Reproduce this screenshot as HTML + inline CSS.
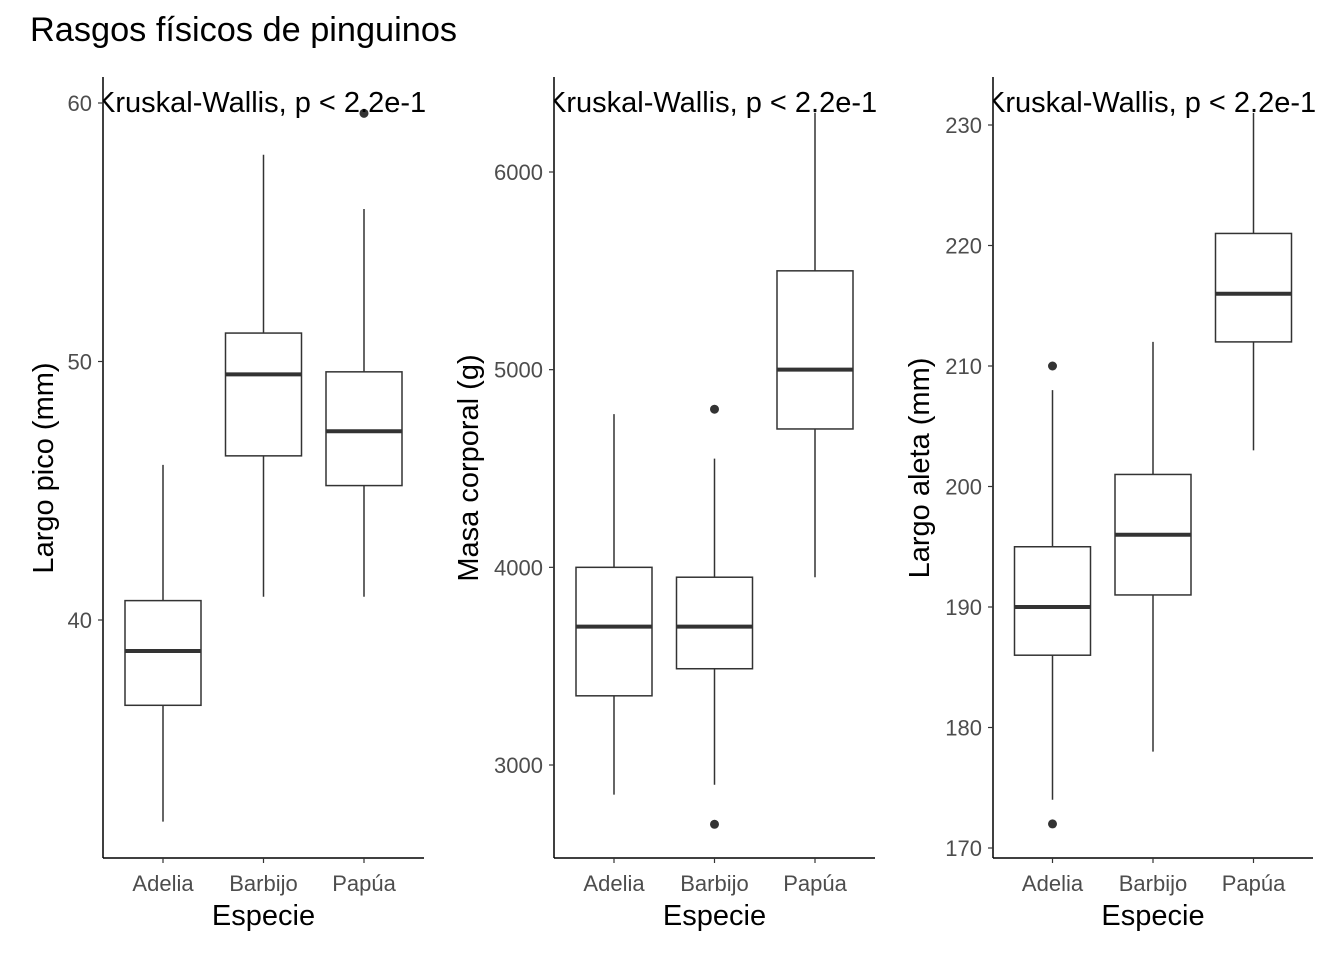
<!DOCTYPE html>
<html><head><meta charset="utf-8"><style>
body{margin:0;background:#fff;}
svg{display:block;font-family:"Liberation Sans",Arial,sans-serif;}
</style></head><body>
<svg id="chart" width="1344" height="960" viewBox="0 0 1344 960">
<text x="30" y="41" font-size="34.3" fill="#000">Rasgos físicos de pinguinos</text>
<g id="panels"></g>
</svg>
<script>
const categories = ["Adelia","Barbijo","Papúa"];
// stats: [low whisker, q1, median, q3, high whisker]
const billStats = [[32.2,36.7,38.8,40.75,46.0],[40.9,46.35,49.5,51.1,58.0],[40.9,45.2,47.3,49.6,55.9]];
const billOutliers = [[],[],[59.6]];
const billTicks = [40,50,60];
const massStats = [[2850,3350,3700,4000,4775],[2900,3487,3700,3950,4550],[3950,4700,5000,5500,6300]];
const massOutliers = [[],[4800,2700],[]];
const massTicks = [3000,4000,5000,6000];
const flipStats = [[174,186,190,195,208],[178,191,196,201,212],[203,212,216,221,231]];
const flipOutliers = [[210,172],[],[]];
const flipTicks = [170,180,190,200,210,220,230];
const annotation = "Kruskal-Wallis, p < 2.2e-16";

const NS="http://www.w3.org/2000/svg";
const root=document.getElementById('panels');
function mk(tag,attrs,parent){const e=document.createElementNS(NS,tag);for(const k in attrs)e.setAttribute(k,attrs[k]);(parent||root).appendChild(e);return e;}

const panels=[
 {name:"bill-length",ax:103,right:424,title:"Largo pico (mm)",tx:43,stats:billStats,out:billOutliers,ticks:billTicks,t0:40,p0:620,t1:60,p1:103},
 {name:"body-mass",ax:554,right:875,title:"Masa corporal (g)",tx:468,stats:massStats,out:massOutliers,ticks:massTicks,t0:3000,p0:765,t1:6000,p1:172},
 {name:"flipper-length",ax:993,right:1313,title:"Largo aleta (mm)",tx:919,stats:flipStats,out:flipOutliers,ticks:flipTicks,t0:170,p0:848,t1:230,p1:125}
];
const plotTop=77,plotBottom=858;
panels.forEach((p,pi)=>{
 const g=mk('g',{});
 
 
 const y=v=>p.p0+(v-p.t0)*(p.p1-p.p0)/(p.t1-p.t0);
 const center=(p.ax+p.right)/2;
 const step=100.5;
 const x=i=>center+(i-1)*step;
 const bw=76;
 const ya=mk('line',{x1:p.ax,x2:p.ax,y1:plotTop,y2:plotBottom,stroke:'#000','stroke-width':1.5},g);
 
 
 const xa=mk('line',{x1:p.ax,x2:p.right,y1:plotBottom,y2:plotBottom,stroke:'#000','stroke-width':1.5},g);
 
 
 p.ticks.forEach(t=>{
  mk('line',{x1:p.ax-5,x2:p.ax,y1:y(t),y2:y(t),stroke:'#333','stroke-width':1.2},g);
  const tl=mk('text',{x:p.ax-11,y:y(t)+8,'text-anchor':'end','font-size':22,fill:'#4d4d4d'},g);
  tl.textContent=t;
  
  
 });
 categories.forEach((c,i)=>{
  mk('line',{x1:x(i),x2:x(i),y1:plotBottom,y2:plotBottom+5,stroke:'#333','stroke-width':1.2},g);
  const cl=mk('text',{x:x(i),y:plotBottom+33,'text-anchor':'middle','font-size':22,fill:'#4d4d4d'},g);
  cl.textContent=c;
  
  
  const s=p.stats[i];
  const bg=mk('g',{},g);
  
  
  mk('line',{x1:x(i),x2:x(i),y1:y(s[0]),y2:y(s[1]),stroke:'#333','stroke-width':1.5},bg);
  mk('line',{x1:x(i),x2:x(i),y1:y(s[3]),y2:y(s[4]),stroke:'#333','stroke-width':1.5},bg);
  mk('rect',{x:x(i)-bw/2,y:y(s[3]),width:bw,height:y(s[1])-y(s[3]),fill:'#fff',stroke:'#333','stroke-width':1.5},bg);
  mk('line',{x1:x(i)-bw/2,x2:x(i)+bw/2,y1:y(s[2]),y2:y(s[2]),stroke:'#333','stroke-width':4},bg);
  p.out[i].forEach(o=>{
   const d=mk('circle',{cx:x(i),cy:y(o),r:4.5,fill:'#333'},bg);
   
   
  });
 });
 const xt=mk('text',{x:center,y:925,'text-anchor':'middle','font-size':29,fill:'#000'},g);
 xt.textContent='Especie';
 
 
 const yt=mk('text',{x:p.tx+10,y:468,'text-anchor':'middle','font-size':29,fill:'#000',transform:`rotate(-90 ${p.tx+10} 468)`},g);
 yt.textContent=p.title;
 
 
 const cp=mk('clipPath',{id:'clip'+pi},g);
 mk('rect',{x:p.ax,y:60,width:324,height:80},cp);
 const an=mk('text',{x:p.ax-7,y:112,'font-size':29,fill:'#000','clip-path':`url(#clip${pi})`},g);
 an.textContent=annotation;
 
 
});
</script>
</body></html>
